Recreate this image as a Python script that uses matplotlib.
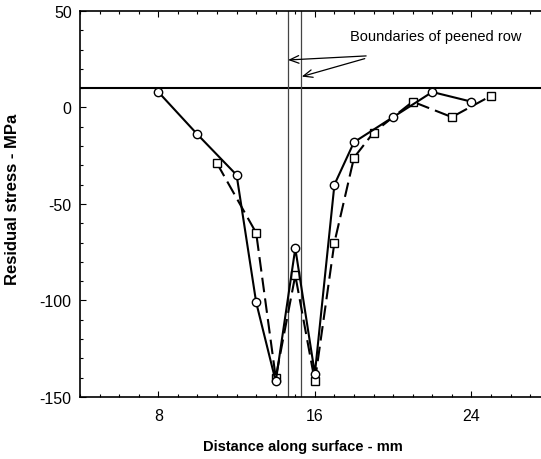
import matplotlib.pyplot as plt
from matplotlib.ticker import MultipleLocator

plt.rcParams.update({
    'font.family': ['Liberation Sans', 'DejaVu Sans'],
    'font.size': 11,
    'axes.unicode_minus': False,
})

# circles, solid line
circle_x = [8, 10, 12, 13, 14, 15, 16, 17, 18, 20, 22, 24]
circle_y = [8, -14, -35, -101, -142, -73, -138, -40, -18, -5, 8, 3]

# squares, dashed line
square_x = [11, 13, 14, 15, 16, 17, 18, 19, 21, 23, 25]
square_y = [-29, -65, -140, -87, -142, -70, -26, -13, 3, -5, 6]

row_bounds = [14.63, 15.3]
ref_level = 10

fig = plt.figure(figsize=(5.41, 4.60), dpi=100)
ax = fig.add_axes([0.148, 0.135, 0.868, 0.839])

ax.axhline(ref_level, color='black', lw=1.5, zorder=2)
for xb in row_bounds:
    ax.axvline(xb, color='#444444', lw=0.9, zorder=2)

ax.plot(square_x, square_y, color='black', lw=1.5, dashes=(7, 3),
        marker='s', ms=5.5, mfc='white', mec='black', mew=1.0, zorder=3)
ax.plot(circle_x, circle_y, color='black', lw=1.5,
        marker='o', ms=6, mfc='white', mec='black', mew=1.0, zorder=4)

ax.text(17.8, 37, 'Boundaries of peened row', fontsize=10.5, va='center', ha='left')
ax.annotate('', xy=(14.63, 24.6), xytext=(18.62, 26.7),
            arrowprops=dict(arrowstyle='->,head_length=0.6,head_width=0.25',
                            color='black', lw=0.9, shrinkA=0, shrinkB=0))
ax.annotate('', xy=(15.33, 16.0), xytext=(18.55, 25.3),
            arrowprops=dict(arrowstyle='->,head_length=0.6,head_width=0.25',
                            color='black', lw=0.9, shrinkA=0, shrinkB=0))

ax.set_xlim(4, 28)
ax.set_ylim(-150, 50)
ax.set_xticks([8, 16, 24])
ax.set_yticks([-150, -100, -50, 0, 50])
ax.xaxis.set_minor_locator(MultipleLocator(1))
ax.yaxis.set_minor_locator(MultipleLocator(10))
ax.tick_params(which='both', direction='in', top=True, right=False, width=0.8)
ax.tick_params(which='major', length=4, labelsize=11.5)
ax.tick_params(axis='y', which='major', pad=6)
ax.tick_params(axis='x', which='major', pad=8)
ax.tick_params(which='minor', length=2.5)
ax.spines['right'].set_visible(False)
for s in ['left', 'bottom', 'top']:
    ax.spines[s].set_linewidth(1.2)

ax.set_xlabel('Distance along surface - mm', fontsize=10.5, fontweight='bold')
ax.xaxis.set_label_coords((303 - 80) / 469.0, -0.11)
ax.set_ylabel('Residual stress - MPa', fontsize=12, fontweight='bold')
ax.yaxis.set_label_coords(-0.128, 0.514)

fig.savefig('out.png', dpi=100)
